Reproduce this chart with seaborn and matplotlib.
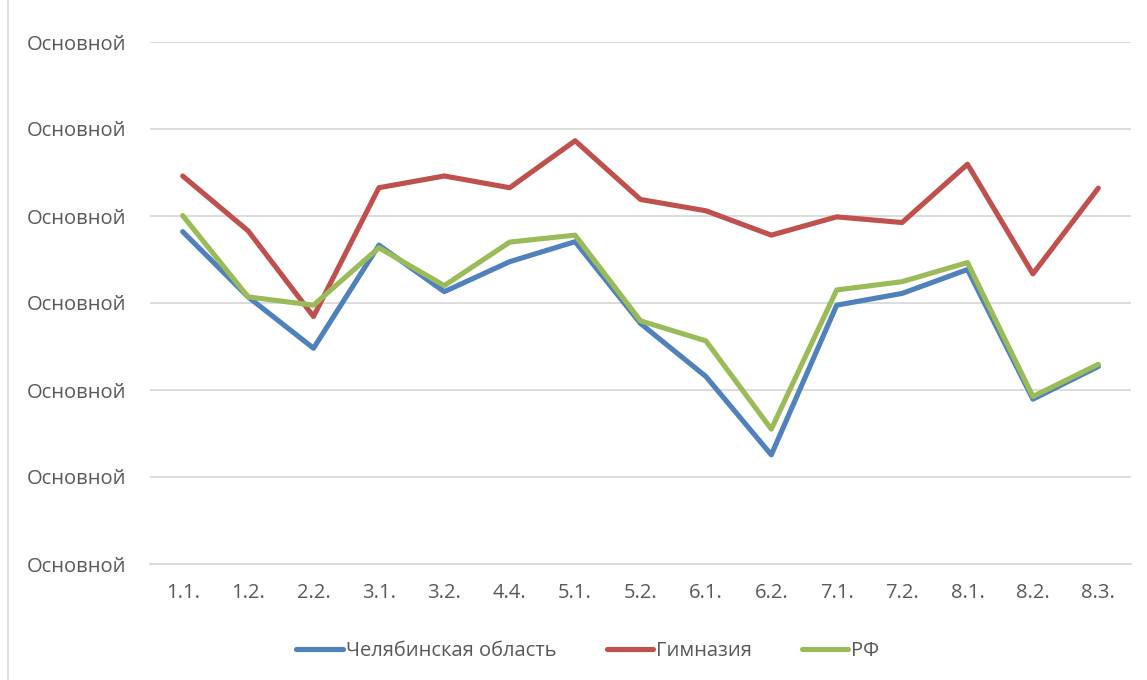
import pandas as pd
import seaborn as sns
import matplotlib.pyplot as plt
from matplotlib.patches import Rectangle

# категории (задания)
tasks = ['1.1.', '1.2.', '2.2.', '3.1.', '3.2.', '4.4.', '5.1.', '5.2.',
         '6.1.', '6.2.', '7.1.', '7.2.', '8.1.', '8.2.', '8.3.']

chel = [76.4, 61.4, 49.6, 73.3, 62.6, 69.5, 74.1, 55.3,
        43.1, 25.1, 59.5, 62.2, 67.7, 37.9, 45.4]
gymn = [89.2, 76.6, 56.9, 86.5, 89.2, 86.5, 97.3, 83.8,
        81.2, 75.6, 79.8, 78.5, 91.9, 66.7, 86.4]
rf = [80.1, 61.4, 59.5, 72.7, 64.0, 74.0, 75.6, 55.9,
      51.3, 31.0, 63.0, 64.9, 69.3, 38.5, 45.9]

series = ['Челябинская область', 'Гимназия', 'РФ']
colors = ['#4F81BD', '#C0504D', '#9BBB59']
yticks = [0, 20, 40, 60, 80, 100, 120]
ytick_labels = ['Основной'] * len(yticks)

df = pd.DataFrame({
    'task': tasks * 3,
    'value': chel + gymn + rf,
    'series': [series[0]] * len(tasks) + [series[1]] * len(tasks) + [series[2]] * len(tasks),
})

sns.set_style('white')
plt.rcParams['font.family'] = ['Open Sans', 'DejaVu Sans']

fig = plt.figure(figsize=(11.47, 6.8), dpi=100)
ax = fig.add_axes([150 / 1147, 116 / 680, 981 / 1147, 522 / 680])

sns.lineplot(data=df, x='task', y='value', hue='series', hue_order=series,
             palette=colors, linewidth=3.7, sort=False, ax=ax)

ax.set_xlim(-0.5, len(tasks) - 0.5)
ax.set_ylim(0, 120)
ax.set_yticks(yticks)
ax.set_yticklabels(ytick_labels)
ax.grid(axis='y', color='#D9D9D9', linewidth=1.3)
ax.set_axisbelow(True)
for s in ['top', 'right', 'left']:
    ax.spines[s].set_visible(False)
ax.spines['bottom'].set_color('#D9D9D9')
ax.spines['bottom'].set_linewidth(1.3)
ax.tick_params(axis='y', length=0, pad=17, labelsize=14.5, labelcolor='#595959')
ax.tick_params(axis='x', length=0, pad=14, labelsize=14.5, labelcolor='#595959')
ax.set_xlabel('')
ax.set_ylabel('')

leg = ax.legend(loc='center', bbox_to_anchor=(0.4465, -0.167),
                ncol=3, frameon=False, fontsize=14.5, handlelength=2.3,
                handletextpad=0.15, columnspacing=2.5)
for h in leg.get_lines():
    h.set_linewidth(3.7)
    h.set_solid_capstyle('round')
for t in leg.get_texts():
    t.set_color('#595959')

fig.add_artist(Rectangle((8 / 1147, -0.01), 1.1, 1.1, transform=fig.transFigure,
                         fill=False, edgecolor='#D9D9D9', linewidth=1.2))

plt.savefig('out.png', dpi=100)
